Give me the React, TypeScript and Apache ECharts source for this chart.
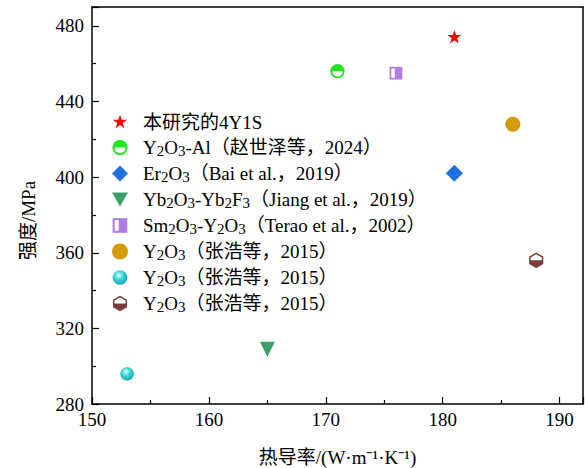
import React, { useEffect, useRef } from "react";
import * as echarts from "echarts";

const seriesIds = ["s1", "s2", "s3", "s4", "s5", "s6", "s7", "s8"];
const legendLabels = [
  "本研究的4Y1S",
  "Y{s|2}O{s|3}-Al（赵世泽等，2024）",
  "Er{s|2}O{s|3}（Bai et al.，2019）",
  "Yb{s|2}O{s|3}-Yb{s|2}F{s|3}（Jiang et al.，2019）",
  "Sm{s|2}O{s|3}-Y{s|2}O{s|3}（Terao et al.，2002）",
  "Y{s|2}O{s|3}（张浩等，2015）",
  "Y{s|2}O{s|3}（张浩等，2015）",
  "Y{s|2}O{s|3}（张浩等，2015）",
];
const thermal = [181, 171, 181, 165, 176, 186, 153, 188];
const strength = [474, 456, 402, 309, 455, 428, 296, 356];
const xLabelStep = 10;
const yLabelStep = 40;

const svgUrl = (s: string) => "image://data:image/svg+xml;charset=utf-8," + encodeURIComponent(s);

const symbols = [
  svgUrl('<svg xmlns="http://www.w3.org/2000/svg" width="24" height="24" viewBox="0 0 24 24"><polygon points="12,1 14.6,8.6 22.6,8.6 16.1,13.4 18.6,21.2 12,16.4 5.4,21.2 7.9,13.4 1.4,8.6 9.4,8.6" fill="#ff0000"/></svg>'),
  svgUrl('<svg xmlns="http://www.w3.org/2000/svg" width="24" height="24" viewBox="0 0 24 24"><circle cx="12" cy="12" r="10" fill="#ffffff" stroke="#22e622" stroke-width="3"/><path d="M2,12 A10,10 0 0 1 22,12 Z" fill="#22e622"/></svg>'),
  "diamond",
  "path://M0,0L10,0L5,8.7Z",
  svgUrl('<svg xmlns="http://www.w3.org/2000/svg" width="24" height="24" viewBox="0 0 24 24"><rect x="1" y="1" width="22" height="22" fill="#b07ee0"/><rect x="4" y="4" width="6" height="16" fill="#ffffff"/></svg>'),
  "circle",
  svgUrl('<svg xmlns="http://www.w3.org/2000/svg" width="24" height="24" viewBox="0 0 24 24"><defs><radialGradient id="g" cx="0.42" cy="0.35" r="0.65"><stop offset="0" stop-color="#e8ffff"/><stop offset="0.45" stop-color="#3fd6da"/><stop offset="1" stop-color="#0fa9b0"/></radialGradient></defs><circle cx="12" cy="12" r="11" fill="url(#g)"/></svg>'),
  svgUrl('<svg xmlns="http://www.w3.org/2000/svg" width="24" height="24" viewBox="0 0 24 24"><polygon points="12,1.5 21.5,7 21.5,17 12,22.5 2.5,17 2.5,7" fill="#ffffff" stroke="#7a3d3d" stroke-width="2.2"/><polygon points="2.5,12 21.5,12 21.5,17 12,22.5 2.5,17" fill="#7a3d3d"/></svg>'),
];
const colors = ["#ff0000", "#22e622", "#1f6fdc", "#3c9e68", "#b07ee0", "#d39a0a", "#1fc2c8", "#7a3d3d"];
const sizes = [16, 15, 17, 15, 14, 15, 15, 16];

const FONT = "'Times New Roman', 'Liberation Serif', 'Noto Sans CJK SC', serif";
const axisLineStyle = { color: "#000", width: 1.5 };

export default function App() {
  const ref = useRef<HTMLDivElement>(null);
  useEffect(() => {
    if (!ref.current) return;
    const chart = echarts.init(ref.current, undefined, { renderer: "svg" });
    const series = seriesIds.map((id, i) => ({
      name: id,
      type: "scatter",
      data: [[thermal[i], strength[i]]],
      symbol: symbols[i],
      symbolSize: sizes[i],
      itemStyle: { color: colors[i], opacity: 1 },
    }));
    const frameAxis = {
      type: "value",
      axisLine: { show: true, onZero: false, lineStyle: axisLineStyle },
      axisTick: { show: false },
      axisLabel: { show: false },
      splitLine: { show: false },
    };
    chart.setOption({
      animation: false,
      backgroundColor: "#ffffff",
      grid: { left: 92, right: 2, top: 7, bottom: 64, outerBoundsMode: "none" },
      legend: {
        orient: "vertical",
        left: 107,
        top: 107,
        itemGap: 5,
        itemWidth: 16,
        itemHeight: 16,
        data: seriesIds.map((id, i) => ({ name: id, icon: symbols[i] })),
        formatter: (name: string) => legendLabels[seriesIds.indexOf(name)],
        textStyle: {
          fontFamily: FONT,
          fontSize: 19,
          lineHeight: 20,
          color: "#000",
          padding: [0, 0, 0, 10],
          rich: {
            s: { fontFamily: FONT, fontSize: 15, lineHeight: 20, color: "#000", padding: [6, 0, 0, 0] },
          },
        },
      },
      xAxis: [
        {
          type: "value",
          min: 150,
          max: 192,
          interval: 10,
          name: "热导率/(W·m⁻¹·K⁻¹)",
          nameLocation: "middle",
          nameGap: 44,
          nameTextStyle: { fontFamily: FONT, fontSize: 19, color: "#000" },
          axisLine: { show: true, onZero: false, lineStyle: axisLineStyle },
          axisTick: { show: true, inside: true, length: 7, lineStyle: { color: "#000", width: 1.2 } },
          minorTick: { show: true, splitNumber: 2, length: 4, lineStyle: { color: "#000", width: 1.2 } },
          axisLabel: {
            fontFamily: FONT,
            fontSize: 19,
            color: "#000",
            margin: 6,
            formatter: (v: number) => (v % xLabelStep === 0 ? String(v) : ""),
          },
          splitLine: { show: false },
        },
        { ...frameAxis, position: "top", min: 150, max: 192 },
      ],
      yAxis: [
        {
          type: "value",
          min: 280,
          max: 490,
          interval: 40,
          name: "强度/MPa",
          nameLocation: "middle",
          nameGap: 54,
          nameTextStyle: { fontFamily: FONT, fontSize: 19, color: "#000", padding: [0, 30, 0, 0] },
          axisLine: { show: true, onZero: false, lineStyle: axisLineStyle },
          axisTick: { show: true, inside: true, length: 7, lineStyle: { color: "#000", width: 1.2 } },
          minorTick: { show: true, splitNumber: 2, length: 4, lineStyle: { color: "#000", width: 1.2 } },
          axisLabel: {
            fontFamily: FONT,
            fontSize: 19,
            color: "#000",
            margin: 8,
            formatter: (v: number) => ((v - 280) % yLabelStep === 0 && v <= 480 ? String(v) : ""),
          },
          splitLine: { show: false },
        },
        { ...frameAxis, position: "right", min: 280, max: 490 },
      ],
      series,
    });
    return () => chart.dispose();
  }, []);
  return (
    <div
      ref={ref}
      style={{ position: "fixed", left: 0, top: 0, width: 585, height: 468 }}
    />
  );
}
